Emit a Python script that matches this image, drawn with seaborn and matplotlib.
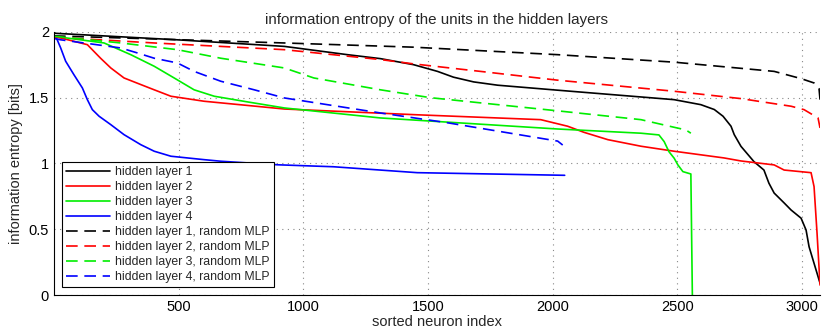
"""
Entropy of hidden units, sorted, per layer (trained vs random MLP)
"""

import matplotlib
matplotlib.use('Agg')
import matplotlib.pyplot as plt
import seaborn as sns
import pandas as pd

# hidden layer 1 (trained)
h1_x = [0, 495, 924, 1177, 1309, 1442, 1538, 1602, 1683, 1779, 2020, 2487, 2594,
        2648, 2683, 2715, 2728, 2755, 2807, 2847, 2867, 2888, 2928, 2956, 2996,
        3016, 3028, 3044, 3072]
h1_y = [1.99, 1.94, 1.89, 1.827, 1.797, 1.751, 1.70, 1.656, 1.62, 1.595, 1.557,
        1.485, 1.447, 1.41, 1.359, 1.283, 1.219, 1.13, 1.014, 0.95, 0.85, 0.775,
        0.70, 0.646, 0.584, 0.494, 0.367, 0.266, 0.09]

# hidden layer 2 (trained)
h2_x = [0, 134, 187, 228, 281, 348, 402, 469, 602, 924, 1457, 1952, 2060, 2125,
        2221, 2354, 2487, 2687, 2755, 2888, 2928, 3036, 3048, 3060, 3072]
h2_y = [1.967, 1.903, 1.80, 1.726, 1.65, 1.60, 1.56, 1.511, 1.473, 1.414, 1.37,
        1.333, 1.283, 1.237, 1.181, 1.131, 1.093, 1.042, 1.019, 0.989, 0.95, 0.93,
        0.824, 0.47, 0.076]

# hidden layer 3 (trained)
h3_x = [0, 201, 308, 402, 482, 562, 643, 776, 924, 1309, 2020, 2354, 2426, 2447,
        2466, 2487, 2502, 2522, 2554, 2560]
h3_y = [1.967, 1.916, 1.827, 1.739, 1.65, 1.56, 1.511, 1.468, 1.422, 1.346,
        1.262, 1.23, 1.217, 1.166, 1.09, 1.04, 0.989, 0.938, 0.92, 0.0]

# hidden layer 4 (trained)
h4_x = [0, 7, 27, 47, 80, 114, 134, 154, 181, 228, 281, 348, 402, 469, 602, 669,
        896, 1121, 1457, 2048]
h4_y = [1.95, 1.967, 1.878, 1.777, 1.675, 1.574, 1.485, 1.409, 1.359, 1.295,
        1.219, 1.143, 1.093, 1.055, 1.029, 1.017, 0.99, 0.975, 0.93, 0.91]

# hidden layers of the random MLP
r1_x = [0, 924, 1442, 2020, 2487, 2888, 2996, 3048, 3068, 3072]
r1_y = [1.97, 1.916, 1.884, 1.827, 1.77, 1.70, 1.645, 1.612, 1.569, 1.485]

r2_x = [0, 402, 924, 1309, 1442, 1710, 2020, 2487, 2755, 2956, 3008, 3064, 3072]
r2_y = [1.96, 1.916, 1.865, 1.79, 1.757, 1.70, 1.633, 1.549, 1.493, 1.435, 1.409,
        1.346, 1.27]

r3_x = [0, 268, 495, 669, 924, 1042, 1309, 1510, 2020, 2354, 2487, 2534, 2554]
r3_y = [1.967, 1.916, 1.865, 1.80, 1.726, 1.65, 1.56, 1.50, 1.40, 1.333, 1.275,
        1.255, 1.23]

r4_x = [0, 27, 268, 335, 402, 495, 562, 669, 803, 924, 1309, 1576, 2020, 2040]
r4_y = [1.95, 1.94, 1.878, 1.84, 1.80, 1.764, 1.70, 1.625, 1.56, 1.498, 1.384,
        1.31, 1.17, 1.14]

labels = ['hidden layer 1', 'hidden layer 2', 'hidden layer 3', 'hidden layer 4',
          'hidden layer 1, random MLP', 'hidden layer 2, random MLP',
          'hidden layer 3, random MLP', 'hidden layer 4, random MLP']
colors = ['#000000', '#ff0000', '#00ee00', '#0000ff'] * 2

series = [(h1_x, h1_y), (h2_x, h2_y), (h3_x, h3_y), (h4_x, h4_y),
          (r1_x, r1_y), (r2_x, r2_y), (r3_x, r3_y), (r4_x, r4_y)]

sns.set_style('white')
plt.rcParams['font.family'] = ['Liberation Sans', 'DejaVu Sans']
plt.rcParams['font.size'] = 10

fig = plt.figure(figsize=(8.3, 3.36), dpi=100)
ax = fig.add_axes([0.065, 0.122, 0.923, 0.783])

for i, ((xs, ys), lab, col) in enumerate(zip(series, labels, colors)):
    df = pd.DataFrame({'x': xs, 'y': ys})
    sns.lineplot(data=df, x='x', y='y', ax=ax, color=col, linewidth=1.2,
                 estimator=None, sort=False, label=lab)
    if i >= 4:
        ax.lines[-1].set_dashes((7, 4))

ax.set_xlim(0, 3072)
ax.set_ylim(0, 2)
ax.set_xticks([500, 1000, 1500, 2000, 2500, 3000])
ax.set_yticks([0, 0.5, 1, 1.5, 2])
ax.set_yticklabels(['0', '0.5', '1', '1.5', '2'])
ax.grid(True, color='#888888', linestyle=(0, (1, 4)), linewidth=0.8)
ax.tick_params(direction='in', length=4, labelsize=10.5, colors='black')
for s in ['top', 'right']:
    ax.spines[s].set_visible(False)
for s in ['left', 'bottom']:
    ax.spines[s].set_color('black')
    ax.spines[s].set_linewidth(0.8)

ax.set_title('information entropy of the units in the hidden layers', fontsize=10.9)
ax.set_xlabel('sorted neuron index', fontsize=10.5, labelpad=1)
ax.set_ylabel('information entropy [bits]', fontsize=10.5)

leg = ax.legend(loc='lower left', bbox_to_anchor=(0.0104, 0.030), borderaxespad=0,
                fontsize=8.8, frameon=True, fancybox=False, handlelength=3.6,
                labelspacing=0.24, borderpad=0.35, handletextpad=0.4)
leg.get_frame().set_edgecolor('black')
leg.get_frame().set_linewidth(0.8)
leg.get_frame().set_alpha(1)

fig.savefig('out.png', dpi=100, facecolor='white')
plt.close(fig)
